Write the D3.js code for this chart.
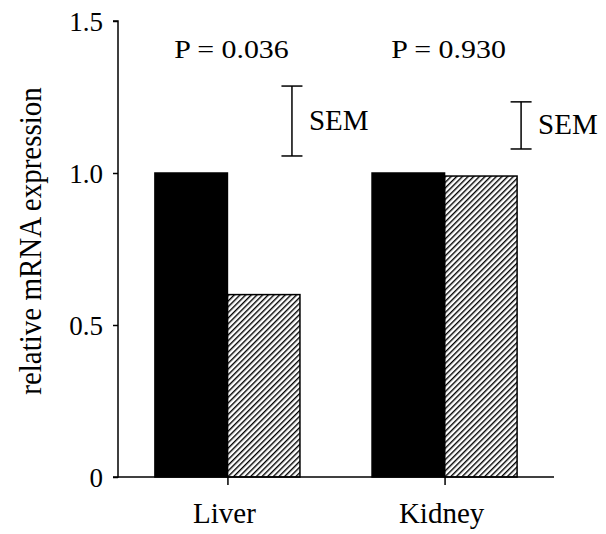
<!DOCTYPE html>
<html>
<head>
<meta charset="utf-8">
<script src="https://cdn.jsdelivr.net/npm/d3@7"></script>
<style>
  body { margin: 0; background: #fff; }
  text { font-family: "Liberation Serif", Tinos, "Times New Roman", Times, serif; fill: #000; }
</style>
</head>
<body>
<svg id="chart" width="606" height="534"></svg>
<script>
// data
var categories = ['Liver', 'Kidney'];
var series = ['control', 'treated'];
var values = [[1.0, 0.60], [1.0, 0.99]];
var pLabels = ['P = 0.036', 'P = 0.930'];
var semLow = [1.056, 1.079];
var semHigh = [1.286, 1.234];
var yTicks = [0, 0.5, 1.0, 1.5];
var yTickLabels = ['0', '0.5', '1.0', '1.5'];

// layout
var mLeft = 118, mRight = 554, mTop = 21, mBottom = 477;
var semShift = [-8, 4];   // where the SEM marks sit vs. the right edge of each pair

var svg = d3.select('#chart');

var defs = svg.append('defs');
defs.append('pattern')
  .attr('id', 'hatch')
  .attr('patternUnits', 'userSpaceOnUse')
  .attr('width', 4)
  .attr('height', 4)
  .attr('patternTransform', 'rotate(45)')
  .append('rect')
  .attr('x', 0).attr('y', 0)
  .attr('width', 1.4).attr('height', 4)
  .attr('fill', '#000');

var y = d3.scaleLinear().domain([0, 1.5]).range([mBottom, mTop]);

var x0 = d3.scaleBand()
  .domain(categories)
  .range([mLeft, mRight])
  .paddingInner(0.332)
  .paddingOuter(0.17);

var x1 = d3.scaleBand()
  .domain(series)
  .range([0, x0.bandwidth()]);

// bars
var groups = svg.selectAll('.group')
  .data(categories)
  .enter().append('g')
  .attr('class', 'group')
  .attr('transform', function(d){ return 'translate(' + x0(d) + ',0)'; });

groups.selectAll('rect')
  .data(function(d, i){ return values[i].map(function(v, j){ return {s: series[j], v: v}; }); })
  .enter().append('rect')
  .attr('x', function(d){ return x1(d.s); })
  .attr('y', function(d){ return y(d.v); })
  .attr('width', x1.bandwidth())
  .attr('height', function(d){ return y(0) - y(d.v); })
  .attr('fill', function(d){ return d.s === 'control' ? '#000' : 'url(#hatch)'; })
  .attr('stroke', '#000')
  .attr('stroke-width', 1.5);

// y axis
var yAxis = d3.axisLeft(y)
  .tickValues(yTicks)
  .tickFormat(function(d, i){ return yTickLabels[i]; })
  .tickSize(5)
  .tickPadding(10);

var yg = svg.append('g')
  .attr('transform', 'translate(' + mLeft + ',0)')
  .call(yAxis);
yg.select('.domain').attr('stroke-width', 1.5).attr('d', 'M-5,' + mTop + 'H0V' + mBottom + 'H-5');
yg.selectAll('.tick line').attr('stroke-width', 1.5);
yg.selectAll('.tick text')
  .attr('font-family', null)
  .attr('font-size', 27)
  .attr('dy', '0.34em');

// x axis
var xAxis = d3.axisBottom(d3.scalePoint().domain(categories).range([x0('Liver') + x0.bandwidth() / 2, x0('Kidney') + x0.bandwidth() / 2]))
  .tickSize(8)
  .tickFormat('');

var xg = svg.append('g')
  .attr('transform', 'translate(0,' + mBottom + ')')
  .call(xAxis);
xg.select('.domain').attr('stroke-width', 1.5).attr('d', 'M' + mLeft + ',0H' + mRight);
xg.selectAll('.tick line').attr('stroke-width', 1.5);

svg.selectAll('.xlabel')
  .data(categories)
  .enter().append('text')
  .attr('class', 'xlabel')
  .attr('x', function(d){ return x0(d) + x0.bandwidth() / 2 - 3; })
  .attr('y', 523)
  .attr('text-anchor', 'middle')
  .attr('font-size', 29)
  .text(function(d){ return d; });

// y label
svg.append('text')
  .attr('transform', 'translate(41,241) scale(1.1,1) rotate(-90)')
  .attr('text-anchor', 'middle')
  .attr('font-size', 29)
  .text('relative mRNA expression');

// P values
svg.selectAll('.pval')
  .data(categories)
  .enter().append('text')
  .attr('class', 'pval')
  .attr('transform', function(d){ return 'translate(' + (x0(d) + x0.bandwidth() / 2 + 4) + ',58) scale(1.15,1)'; })
  .attr('text-anchor', 'middle')
  .attr('font-size', 26)
  .text(function(d, i){ return pLabels[i]; });

// SEM markers
categories.forEach(function(c, i){
  var sx = x0(c) + x0.bandwidth() + semShift[i];
  var g = svg.append('g').attr('stroke', '#000').attr('stroke-width', 1.5);
  g.append('line').attr('x1', sx).attr('x2', sx).attr('y1', y(semHigh[i])).attr('y2', y(semLow[i]));
  g.append('line').attr('x1', sx - 10.5).attr('x2', sx + 10.5).attr('y1', y(semHigh[i])).attr('y2', y(semHigh[i]));
  g.append('line').attr('x1', sx - 10.5).attr('x2', sx + 10.5).attr('y1', y(semLow[i])).attr('y2', y(semLow[i]));
  svg.append('text')
    .attr('x', sx + 17)
    .attr('y', (y(semHigh[i]) + y(semLow[i])) / 2 + 9)
    .attr('font-size', 29)
    .text('SEM');
});
</script>
</body>
</html>
